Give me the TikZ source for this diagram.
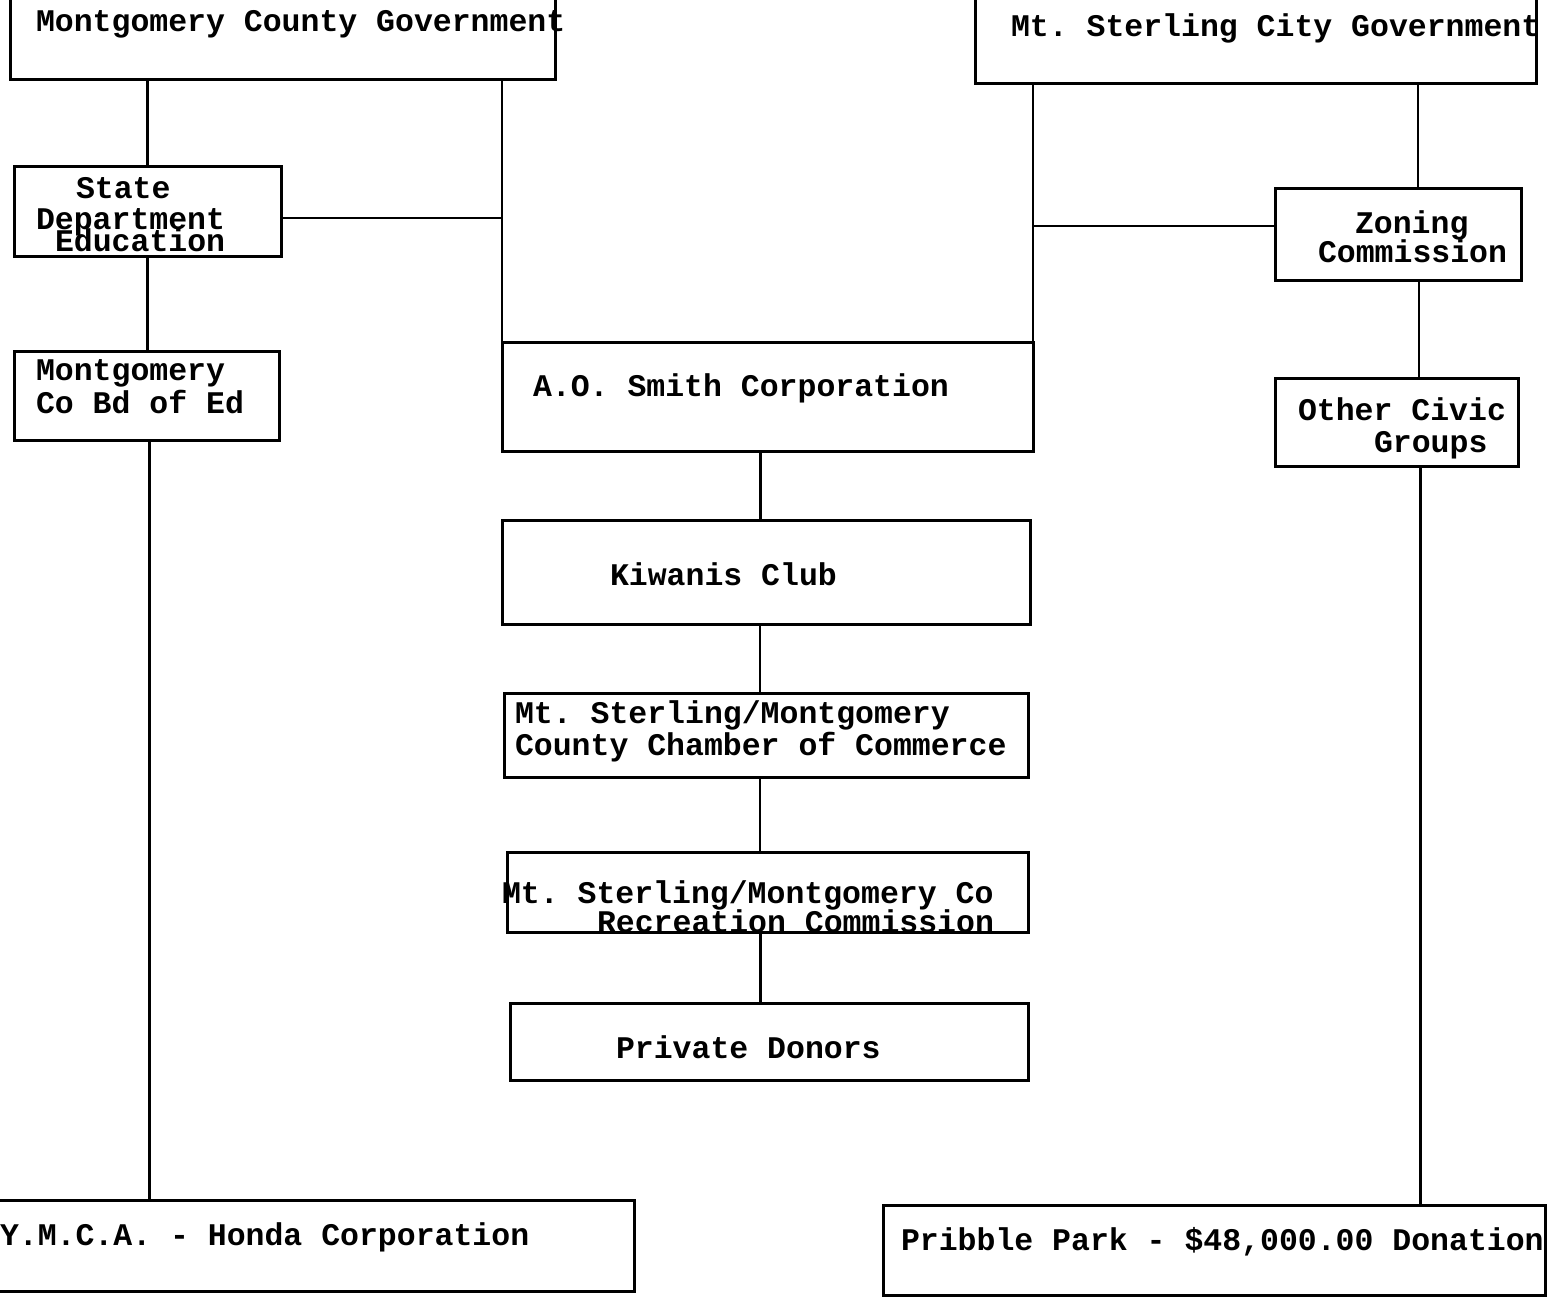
\documentclass[tikz,border=0pt]{standalone}
\usepackage{fontspec}
\newfontfamily\typefont{Liberation Mono}
\usetikzlibrary{fit}
\frenchspacing
\tikzset{
  box/.style={draw=black, line width=3pt, inner sep=0pt, outer sep=0pt, rectangle},
  lbl/.style={font=\fontsize{31.5}{32}\selectfont\typefont\bfseries, inner sep=0pt, outer sep=0pt, anchor=base west, text=black},
  link/.style={draw=black, line width=2.8pt}
}
\begin{document}
\begin{tikzpicture}[x=1pt,y=-1pt]
\useasboundingbox (0,0) rectangle (1558,1303);
\fill[white] (0,0) rectangle (1558,1303);
\clip (0,0) rectangle (1558,1303);
% boxes
\node[box, fit={(10,-20) (555,80)}] (mcg) {};
\node[box, fit={(975,-20) (1536,84)}] (msc) {};
\node[box, fit={(14,166) (281,256)}] (state) {};
\node[box, fit={(14,351) (279,440)}] (mbe) {};
\node[box, fit={(502,342) (1033,451)}] (aos) {};
\node[box, fit={(502,520) (1030,624)}] (kiw) {};
\node[box, fit={(504,693) (1028,777)}] (coc) {};
\node[box, fit={(507,852) (1028,932)}] (rec) {};
\node[box, fit={(510,1003) (1028,1080)}] (don) {};
\node[box, fit={(1275,188) (1521,280)}] (zon) {};
\node[box, fit={(1275,378) (1518,466)}] (ocg) {};
\node[box, fit={(-20,1200) (634,1291)}] (ymca) {};
\node[box, fit={(883,1205) (1545,1295)}] (prib) {};
% labels
\node[lbl] (tmcg) at (36,32) {Montgomery County Government};
\node[lbl] (tmsc) at (1011,37) {Mt. Sterling City Government};
\node[lbl] (tstate1) at (76,198) {State};
\node[lbl] (tstate2) at (36,229) {Department};
\node[lbl] (tstate3) at (55,251) {Education};
\node[lbl] (tmbe1) at (36,380) {Montgomery};
\node[lbl] (tmbe2) at (36,413) {Co Bd of Ed};
\node[lbl] (taos) at (533,396) {A.O. Smith Corporation};
\node[lbl] (tkiw) at (610,585) {Kiwanis Club};
\node[lbl] (tcoc1) at (515,723) {Mt. Sterling/Montgomery};
\node[lbl] (tcoc2) at (515,755) {County Chamber of Commerce};
\node[lbl] (trec1) at (502,903) {Mt. Sterling/Montgomery Co};
\node[lbl] (trec2) at (597,932) {Recreation Commission};
\node[lbl] (tdon) at (616,1058) {Private Donors};
\node[lbl] (tzon1) at (1355,233) {Zoning};
\node[lbl] (tzon2) at (1318,262) {Commission};
\node[lbl] (tocg1) at (1298,420) {Other Civic};
\node[lbl] (tocg2) at (1374,452) {Groups};
\node[lbl] (tymca) at (0,1245) {Y.M.C.A. - Honda Corporation};
\node[lbl] (tprib) at (901,1250) {Pribble Park - \$48,000.00 Donation};
% connectors
\draw[link] (mcg.south -| state.north) -- (state.north);
\draw[link] (state.south) -- (state.south |- mbe.north);
\draw[link] ([xshift=3pt]mbe.south) -- ([xshift=3pt]mbe.south |- ymca.north);
\draw[link] (mcg.south -| aos.west) -- (aos.north west);
\draw[link] ([yshift=-7pt]state.east) -- ([yshift=-7pt]state.east -| aos.west);
\draw[link] (msc.south -| aos.east) -- (aos.north east);
\draw[link] ([yshift=8pt]zon.west -| aos.east) -- ([yshift=8pt]zon.west);
\draw[link] ([xshift=20pt]zon.north) -- ([xshift=20pt]zon.north |- msc.south);
\draw[link] ([xshift=21pt]zon.south) -- ([xshift=21pt]zon.south |- ocg.north);
\draw[link] ([xshift=24pt]ocg.south) -- ([xshift=24pt]ocg.south |- prib.north);
\draw[link] ([xshift=-7pt]aos.south) -- ([xshift=-7pt]aos.south |- kiw.north);
\draw[link] ([xshift=-6pt]kiw.south) -- ([xshift=-6pt]kiw.south |- coc.north);
\draw[link] ([xshift=-6pt]coc.south) -- ([xshift=-6pt]coc.south |- rec.north);
\draw[link] ([xshift=-7pt]rec.south) -- ([xshift=-7pt]rec.south |- don.north);
\end{tikzpicture}
\end{document}
